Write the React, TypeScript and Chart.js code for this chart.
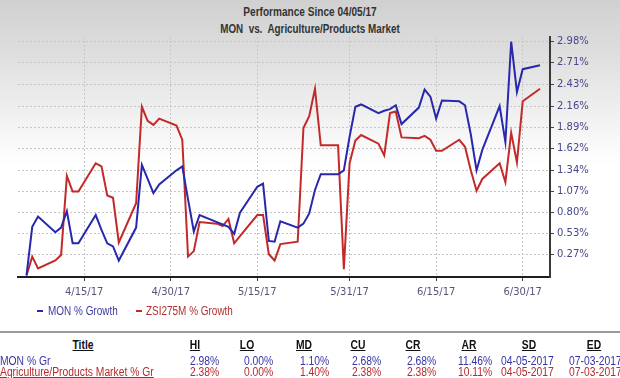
import React, { useEffect, useRef } from 'react';
import { Chart, registerables } from 'chart.js';

Chart.register(...registerables);

// ---- data ----
const START_DATE = '2017-04-05';
const DATES = [
  '2017-04-05', '2017-04-06', '2017-04-07', '2017-04-10', '2017-04-11', '2017-04-12', '2017-04-13', '2017-04-14',
  '2017-04-17', '2017-04-18', '2017-04-19', '2017-04-20', '2017-04-21', '2017-04-24', '2017-04-25', '2017-04-26',
  '2017-04-27', '2017-04-28', '2017-05-01', '2017-05-02', '2017-05-03', '2017-05-04', '2017-05-05', '2017-05-08',
  '2017-05-09', '2017-05-10', '2017-05-11', '2017-05-12', '2017-05-15', '2017-05-16', '2017-05-17', '2017-05-18',
  '2017-05-19', '2017-05-22', '2017-05-23', '2017-05-24', '2017-05-25', '2017-05-26', '2017-05-29', '2017-05-30',
  '2017-05-31', '2017-06-01', '2017-06-02', '2017-06-05', '2017-06-06', '2017-06-07', '2017-06-08', '2017-06-09',
  '2017-06-12', '2017-06-13', '2017-06-14', '2017-06-15', '2017-06-16', '2017-06-19', '2017-06-20', '2017-06-21',
  '2017-06-22', '2017-06-23', '2017-06-26', '2017-06-27', '2017-06-28', '2017-06-29', '2017-06-30', '2017-07-03',
];
const MON_GROWTH = [
  0.0, 0.62, 0.75, 0.55, 0.61, 0.82, 0.41, 0.41,
  0.77, 0.58, 0.41, 0.37, 0.19, 0.61, 1.41, 1.23,
  1.05, 1.16, 1.34, 1.39, 0.97, 0.56, 0.77, 0.68,
  0.65, 0.62, 0.53, 0.8, 1.13, 1.17, 0.44, 0.43,
  0.69, 0.61, 0.66, 0.79, 1.09, 1.29, 1.29, 1.34,
  1.77, 2.15, 2.18, 2.07, 2.1, 2.12, 2.17, 1.93,
  2.14, 2.37, 2.28, 2.0, 2.23, 2.22, 2.17, 1.8,
  1.34, 1.6, 2.16, 1.7, 2.98, 2.34, 2.63, 2.68,
];
const ZSI_GROWTH = [
  0.0, 0.24, 0.09, 0.19, 0.26, 1.27, 1.07, 1.07,
  1.43, 1.39, 1.02, 0.99, 0.42, 0.92, 2.15, 1.97,
  1.92, 2.0, 1.91, 1.73, 0.24, 0.31, 0.68, 0.66,
  0.63, 0.72, 0.41, 0.5, 0.77, 0.77, 0.27, 0.19,
  0.4, 0.43, 1.88, 2.03, 2.38, 1.66, 1.66, 0.08,
  1.43, 1.72, 1.79, 1.68, 1.53, 2.07, 2.09, 1.76,
  1.75, 1.78, 1.73, 1.59, 1.59, 1.73, 1.64, 1.34,
  1.08, 1.23, 1.43, 1.19, 1.82, 1.44, 2.22, 2.38,
];
const X_TICK_DATES = ['2017-04-15', '2017-04-30', '2017-05-15', '2017-05-31', '2017-06-15', '2017-06-30'];
const X_TICK_LABELS = ['4/15/17', '4/30/17', '5/15/17', '5/31/17', '6/15/17', '6/30/17'];
const Y_TICKS = [0.27, 0.53, 0.8, 1.07, 1.34, 1.62, 1.89, 2.16, 2.43, 2.71, 2.98];
const SERIES_NAMES = ['MON % Growth', 'ZSI275M % Growth'];

const TITLE_LINES = ['Performance Since 04/05/17', 'MON  vs.  Agriculture/Products Market'];
const TABLE_HEADERS = ['Title', 'HI', 'LO', 'MD', 'CU', 'CR', 'AR', 'SD', 'ED'];
const MON_ROW = ['MON % Gr', '2.98%', '0.00%', '1.10%', '2.68%', '2.68%', '11.46%', '04-05-2017', '07-03-2017'];
const AGRI_ROW = ['Agriculture/Products Market % Gr', '2.38%', '0.00%', '1.40%', '2.38%', '2.38%', '10.11%', '04-05-2017', '07-03-2017'];

// ---- layout / style ----
const BLUE = '#2828ad';
const RED = '#c22a2a';
const FONT = "'Liberation Sans', Arial, sans-serif";
const HEADER_CX = [83, 195, 247, 304, 358, 413, 469, 529, 594];
const VALUE_LEFT = [0, 190, 244, 300, 352, 407, 458, 501, 569];

function dayOffset(s: string): number {
  const [y, m, d] = s.split('-').map(Number);
  const [y0, m0, d0] = START_DATE.split('-').map(Number);
  return (Date.UTC(y, m - 1, d) - Date.UTC(y0, m0 - 1, d0)) / 86400000;
}

function ChartBox() {
  const ref = useRef<HTMLCanvasElement | null>(null);
  useEffect(() => {
    if (!ref.current) return;
    const xTickDays = X_TICK_DATES.map(dayOffset);
    const chart = new Chart(ref.current, {
      type: 'line',
      data: {
        datasets: [
          {
            label: SERIES_NAMES[0],
            data: DATES.map((d, i) => ({ x: dayOffset(d), y: MON_GROWTH[i] })),
            borderColor: BLUE,
            borderWidth: 2,
            pointRadius: 0,
            tension: 0,
            fill: false,
          },
          {
            label: SERIES_NAMES[1],
            data: DATES.map((d, i) => ({ x: dayOffset(d), y: ZSI_GROWTH[i] })),
            borderColor: RED,
            borderWidth: 2,
            pointRadius: 0,
            tension: 0,
            fill: false,
          },
        ],
      },
      options: {
        animation: false,
        responsive: false,
        maintainAspectRatio: false,
        layout: { padding: { left: 18, right: 0, top: 37, bottom: 0 } },
        plugins: { legend: { display: false }, tooltip: { enabled: false } },
        scales: {
          x: {
            type: 'linear',
            min: -1.47,
            max: 90.73,
            afterBuildTicks: (s: any) => {
              s.ticks = xTickDays.map((v) => ({ value: v }));
            },
            afterFit: (s: any) => {
              s.height = 28;
            },
            ticks: {
              autoSkip: false,
              maxRotation: 0,
              padding: 5,
              color: '#55557a',
              font: { family: 'DejaVu Sans', size: 10 },
              callback: (_v: any, i: number) => X_TICK_LABELS[i],
            },
            grid: { color: '#c6c6c6', lineWidth: 1, tickColor: '#444', tickLength: 4 },
            border: { color: '#1e1e1e', width: 2, dash: [2, 2] },
          },
          y: {
            position: 'right',
            min: -0.02,
            max: 3.04,
            afterBuildTicks: (s: any) => {
              s.ticks = Y_TICKS.map((v) => ({ value: v }));
            },
            afterFit: (s: any) => {
              s.width = 70;
            },
            ticks: {
              padding: 3,
              color: '#46468c',
              font: { family: 'DejaVu Sans', size: 10 },
              callback: (v: any) => Number(v).toFixed(2) + '%',
            },
            grid: { color: '#c6c6c6', lineWidth: 1, tickColor: '#444', tickLength: 4 },
            border: { color: '#3a3a3a', width: 2, dash: [2, 2] },
          },
        },
      },
    } as any);
    return () => chart.destroy();
  }, []);
  return (
    <canvas
      ref={ref}
      width={620}
      height={305}
      style={{ position: 'absolute', left: 0, top: 0, width: 620, height: 305 }}
    />
  );
}

type TxtProps = {
  x: number;
  y: number;
  text: string;
  color: string;
  scale: number;
  align?: 'left' | 'center';
  bold?: boolean;
  underline?: boolean;
};

function Txt({ x, y, text, color, scale, align = 'left', bold = false, underline = false }: TxtProps) {
  const w = 300;
  const left = align === 'center' ? x - w / 2 : x;
  return (
    <div
      style={{
        position: 'absolute',
        left,
        top: y,
        width: w,
        textAlign: align,
        fontFamily: FONT,
        fontSize: 12,
        lineHeight: '14px',
        whiteSpace: 'pre',
        fontWeight: bold ? 'bold' : 'normal',
        textDecoration: underline ? 'underline' : 'none',
        color,
        transform: `scaleX(${scale})`,
        transformOrigin: align === 'center' ? '50% 50%' : '0 50%',
      }}
    >
      {text}
    </div>
  );
}

export default function App() {
  return (
    <div
      style={{
        position: 'absolute',
        left: 0,
        top: 0,
        width: 620,
        height: 378,
        overflow: 'hidden',
        background: 'linear-gradient(to bottom, #d0d0d0 0px, #dddddd 50px, #efefef 110px, #ffffff 165px, #ffffff 378px)',
      }}
    >
      <Txt x={310} y={5} text={TITLE_LINES[0]} color="#333" scale={0.84} align="center" bold />
      <Txt x={310} y={22} text={TITLE_LINES[1]} color="#333" scale={0.82} align="center" bold />
      <ChartBox />
      {/* legend */}
      <div style={{ position: 'absolute', left: 37, top: 310, width: 6, height: 2, background: BLUE }} />
      <Txt x={48} y={304} text={SERIES_NAMES[0]} color="#3a3aa0" scale={0.83} />
      <div style={{ position: 'absolute', left: 136, top: 310, width: 6, height: 2, background: RED }} />
      <Txt x={146} y={304} text={SERIES_NAMES[1]} color="#b03030" scale={0.83} />
      {/* table */}
      <div style={{ position: 'absolute', left: 0, top: 331, width: 620, height: 47, background: '#fff', borderTop: '2px solid #9a9a9a' }} />
      {TABLE_HEADERS.map((h, i) => (
        <Txt key={h} x={HEADER_CX[i]} y={338} text={h} color="#111" scale={0.86} align="center" bold underline />
      ))}
      {MON_ROW.map((v, i) => (
        <Txt key={'m' + i} x={VALUE_LEFT[i]} y={354} text={v} color="#3535a5" scale={0.86} />
      ))}
      {AGRI_ROW.map((v, i) => (
        <Txt key={'a' + i} x={VALUE_LEFT[i]} y={365} text={v} color="#b32b2b" scale={0.86} underline={i === 0} />
      ))}
    </div>
  );
}
